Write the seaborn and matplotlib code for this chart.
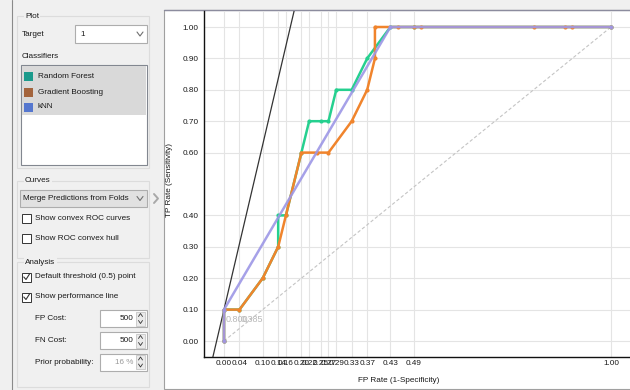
import matplotlib
matplotlib.use("Agg")
import matplotlib.pyplot as plt
import seaborn as sns
from matplotlib import font_manager
from matplotlib.patches import Rectangle

sns.set_theme(style="white")

# the widget uses a narrow UI font; use Liberation Sans Narrow when present
installed = {f.name for f in font_manager.fontManager.ttflist}
if "Liberation Sans Narrow" in installed:
    plt.rcParams["font.family"] = ["Liberation Sans Narrow", "DejaVu Sans"]
    FS = 7.0
else:
    plt.rcParams["font.family"] = ["Liberation Sans", "DejaVu Sans"]
    FS = 5.9

# ---------------- data ----------------
rf_fpr = [0.00, 0.00, 0.04, 0.10, 0.14, 0.14, 0.16, 0.20, 0.22, 0.25, 0.27, 0.29, 0.33, 0.37, 0.43, 0.49, 1.00]
rf_tpr = [0.00, 0.10, 0.10, 0.20, 0.30, 0.40, 0.40, 0.60, 0.70, 0.70, 0.70, 0.80, 0.80, 0.90, 1.00, 1.00, 1.00]

gb_fpr = [0.00, 0.00, 0.04, 0.10, 0.14, 0.16, 0.20, 0.24, 0.27, 0.33, 0.37, 0.39, 0.39, 0.45, 0.49, 0.51, 0.80, 0.88, 0.90, 1.00]
gb_tpr = [0.00, 0.10, 0.10, 0.20, 0.30, 0.40, 0.60, 0.60, 0.60, 0.70, 0.80, 0.90, 1.00, 1.00, 1.00, 1.00, 1.00, 1.00, 1.00, 1.00]

knn_fpr = [0.00, 0.00, 0.43, 1.00]
knn_tpr = [0.00, 0.10, 1.00, 1.00]

diag_x = [0.0, 1.0]
diag_y = [0.0, 1.0]

x_ticks = [0.00, 0.04, 0.10, 0.14, 0.16, 0.20, 0.22, 0.25, 0.27, 0.29, 0.33, 0.37, 0.43, 0.49, 1.00]
y_ticks = [0.00, 0.10, 0.20, 0.30, 0.40, 0.60, 0.70, 0.80, 0.90, 1.00]

fp_cost, fn_cost, prior = 500, 500, 0.16
perf_point = (0.0, 0.10)
perf_slope = fp_cost * (1 - prior) / (fn_cost * prior)

thr_labels = ["0.800", "0.385"]
thr_label_x = [0.005, 0.043]
thr_label_y = 0.067

classifiers = ["Random Forest", "Gradient Boosting", "kNN"]
legend_colors = ["#1b9a8c", "#a3643d", "#5577cf"]
line_colors = ["#25d08f", "#f0842c", "#9d97e6"]

# ---------------- figure ----------------
W, H = 630, 390
fig = plt.figure(figsize=(W / 100, H / 100), dpi=100, facecolor="#f0f0f0")

# overlay in pixel coordinates for the widget panel
ui = fig.add_axes([0, 0, 1, 1])
ui.set_xlim(0, W)
ui.set_ylim(H, 0)
ui.axis("off")

TXT = "#1a1a1a"


def box(x0, y0, x1, y1, fc="white", ec="#adadad", lw=0.8, z=1):
    ui.add_patch(Rectangle((x0, y0), x1 - x0, y1 - y0, fc=fc, ec=ec, lw=lw, zorder=z))


def label(x, y, s, color=TXT, ha="left", bg=None, z=3):
    kw = {}
    if bg:
        kw["bbox"] = dict(fc=bg, ec="none", pad=1)
    ui.text(x, y, s, fontsize=FS, color=color, ha=ha, va="center", zorder=z, **kw)


def chevron(x, y, w=3, h=2, color="#707070", lw=0.8):
    ui.plot([x - w, x, x + w], [y - h, y + h, y - h], color=color, lw=lw, zorder=4)


def checkbox(y, text, checked=False):
    box(22, y - 4.5, 31, y + 4.5, ec="#333333", lw=0.7, z=2)
    if checked:
        ui.plot([23.8, 26, 29.5], [y, y + 2.5, y - 3], color="#333333", lw=0.8, zorder=3)
    label(35, y, text)


def spinbox(y, value, color=TXT):
    box(100, y - 8.5, 147, y + 8.5, ec="#adadad", z=2)
    label(133, y, value, color=color, ha="right")
    box(136, y - 7, 145, y + 7, fc="#eaeaea", ec="#bdbdbd", lw=0.5, z=3)
    ui.plot([138.5, 140.5, 142.5], [y - 2, y - 5, y - 2], color="#333333", lw=0.6, zorder=4)
    ui.plot([138.5, 140.5, 142.5], [y + 2, y + 5, y + 2], color="#333333", lw=0.6, zorder=4)


ui.plot([12, 12], [0, H], color="#8a8a8a", lw=0.8)

# Plot group
box(17, 16, 149, 168, fc="none", ec="#dcdcdc")
label(25, 16, "Plot", bg="#f0f0f0")
label(22, 34, "Target")
box(75, 25, 147, 43, ec="#adadad")
label(80, 34, "1")
chevron(140, 34)
label(22, 57, "Classifiers")
box(21, 65, 147, 165, ec="#828790")
ui.add_patch(Rectangle((22, 66), 124, 49, fc="#d9d9d9", ec="none", zorder=2))
for name, col, yy in zip(classifiers, legend_colors, [76, 92, 107]):
    ui.add_patch(Rectangle((24, yy - 4.5), 9, 9, fc=col, ec="none", zorder=3))
    label(38, yy, name)

# Curves group
box(17, 181, 149, 258, fc="none", ec="#dcdcdc")
label(25, 181, "Curves", bg="#f0f0f0")
box(20, 190, 147, 207, fc="#e1e1e1", ec="#adadad")
label(23, 198.5, "Merge Predictions from Folds")
chevron(140, 198.5)
ui.plot([154, 158, 154], [194, 198.5, 203], color="#a8a8a8", lw=1.4, zorder=4)
checkbox(218, "Show convex ROC curves")
checkbox(238.5, "Show ROC convex hull")

# Analysis group
box(17, 262, 149, 387, fc="none", ec="#dcdcdc")
label(25, 262, "Analysis", bg="#f0f0f0")
checkbox(277, "Default threshold (0.5) point", checked=True)
checkbox(297, "Show performance line", checked=True)
label(35, 318.5, "FP Cost:")
spinbox(318.5, str(fp_cost))
label(35, 340.5, "FN Cost:")
spinbox(340.5, str(fn_cost))
label(35, 362, "Prior probability:")
spinbox(362, f"{int(prior * 100)} %", color="#9a9a9a")

# plot frame
box(164, 10, W + 2, 389, fc="white", ec="#a0a0a0", lw=0.8, z=0)
ui.plot([164, W], [10, 10], color="#8c8c9e", lw=1.0)

# ---------------- ROC axes ----------------
ax = fig.add_axes([204 / W, 1 - 357 / H, 426 / W, 346 / H])
ax.set_facecolor("none")

ax.grid(True, color="#e4e4e4", lw=0.8)
ax.set_axisbelow(True)

sns.lineplot(x=diag_x, y=diag_y, ax=ax, color="#c4c4c4", lw=0.8, ls=(0, (3, 2)), zorder=1)
ax.axline(perf_point, slope=perf_slope, color="#333333", lw=0.9, zorder=2)

for fpr, tpr, col, alpha in zip([rf_fpr, gb_fpr, knn_fpr], [rf_tpr, gb_tpr, knn_tpr],
                                line_colors, [1.0, 1.0, 0.9]):
    sns.lineplot(x=fpr, y=tpr, ax=ax, sort=False, estimator=None, color=col, lw=1.8,
                 alpha=alpha, marker="o", markersize=3.0, markeredgewidth=0, zorder=3)

for s, xx in zip(thr_labels, thr_label_x):
    ax.text(xx, thr_label_y, s, fontsize=FS + 0.6, color="#b8b8b8", va="center", ha="left")

ax.set_xlim(-20 / 387, 406 / 387)
ax.set_ylim(-16 / 314, 330 / 314)
ax.set_xticks(x_ticks, [f"{v:.2f}" for v in x_ticks])
ax.set_yticks(y_ticks, [f"{v:.2f}" for v in y_ticks])
ax.tick_params(axis="both", length=0, labelsize=FS, labelcolor=TXT)
ax.tick_params(axis="x", pad=2.5)
ax.tick_params(axis="y", pad=4)

for side in ["top", "right"]:
    ax.spines[side].set_visible(False)
for side in ["left", "bottom"]:
    ax.spines[side].set_color("#111111")
    ax.spines[side].set_linewidth(1.0)

ax.set_xlabel("FP Rate (1-Specificity)", fontsize=FS, color=TXT)
ax.set_ylabel("TP Rate (Sensitivity)", fontsize=FS, color=TXT)
ax.xaxis.set_label_coords(0.458, -0.058)
ax.yaxis.set_label_coords(-0.073, 0.512)

fig.savefig("out.png", dpi=100, facecolor=fig.get_facecolor())
